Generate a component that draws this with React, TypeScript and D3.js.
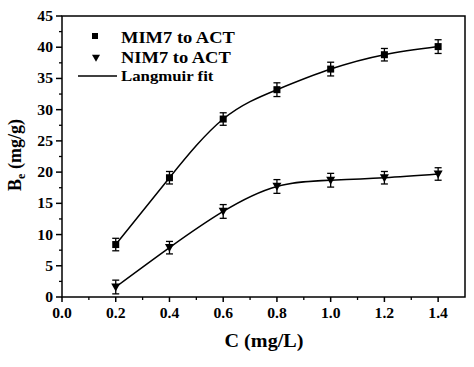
import React from "react";
import * as d3 from "d3";

const concentrations = [0.2, 0.4, 0.6, 0.8, 1.0, 1.2, 1.4];
const mimValues = [8.4, 19.1, 28.5, 33.2, 36.5, 38.8, 40.1];
const mimErrors = [1.0, 1.0, 1.0, 1.1, 1.1, 1.0, 1.1];
const nimValues = [1.6, 7.9, 13.7, 17.7, 18.7, 19.1, 19.7];
const nimErrors = [1.1, 1.0, 1.1, 1.1, 1.1, 1.0, 1.0];
const xTicks = [0.0, 0.2, 0.4, 0.6, 0.8, 1.0, 1.2, 1.4];
const yTicks = [0, 5, 10, 15, 20, 25, 30, 35, 40, 45];

const W = 474, H = 367;
const L = 62, R = 465, T = 16, B = 297;
const FONT = "Liberation Serif";
const SX = 1.12;

function Txt(props: { x: number; y: number; size: number; anchor?: string; children: React.ReactNode }) {
  return (
    <text
      transform={`translate(${props.x},${props.y}) scale(${SX},1)`}
      fontSize={props.size}
      textAnchor={props.anchor || "start"}
      style={{ fontFamily: FONT, fontWeight: 700 }}
      fill="#000"
    >
      {props.children}
    </text>
  );
}

export default function App() {
  const x = d3.scaleLinear().domain([0, 1.5]).range([L, R]);
  const y = d3.scaleLinear().domain([0, 45]).range([B, T]);
  const line = d3.line<number>().x((_, i) => x(concentrations[i])).y((v) => y(v)).curve(d3.curveNatural);
  const xMinor = d3.range(0.1, 1.5, 0.2);
  const yMinor = d3.range(2.5, 45, 5);

  const errBars = (vals: number[], errs: number[]) =>
    vals.map((v, i) => {
      const cx = x(concentrations[i]);
      const y1 = y(v + errs[i]), y2 = y(v - errs[i]);
      return (
        <g key={i} stroke="#000" strokeWidth={1.3}>
          <line x1={cx} x2={cx} y1={y1} y2={y2} />
          <line x1={cx - 3.5} x2={cx + 3.5} y1={y1} y2={y1} />
          <line x1={cx - 3.5} x2={cx + 3.5} y1={y2} y2={y2} />
        </g>
      );
    });

  const tri = (cx: number, cy: number, w: number, h: number) =>
    `M${cx - w / 2},${cy - h * 0.45}L${cx + w / 2},${cy - h * 0.45}L${cx},${cy + h * 0.55}Z`;

  return (
    <svg width={W} height={H} style={{ position: "absolute", left: 0, top: 0, background: "#fff" }}>
      <rect x={0} y={0} width={W} height={H} fill="#fff" />
      <rect x={L} y={T} width={R - L} height={B - T} fill="none" stroke="#000" strokeWidth={1.5} />
      {xTicks.map((t) => (
        <g key={"xt" + t}>
          <line x1={x(t)} x2={x(t)} y1={B} y2={B + 5} stroke="#000" strokeWidth={1.5} />
          <Txt x={x(t)} y={B + 21} size={14} anchor="middle">{t.toFixed(1)}</Txt>
        </g>
      ))}
      {xMinor.map((t) => (
        <line key={"xm" + t} x1={x(t)} x2={x(t)} y1={B} y2={B + 3} stroke="#000" strokeWidth={1.3} />
      ))}
      {yTicks.map((t) => (
        <g key={"yt" + t}>
          <line x1={L - 6} x2={L} y1={y(t)} y2={y(t)} stroke="#000" strokeWidth={1.5} />
          <Txt x={L - 9} y={y(t) + 5} size={14} anchor="end">{t}</Txt>
        </g>
      ))}
      {yMinor.map((t) => (
        <line key={"ym" + t} x1={L - 3} x2={L} y1={y(t)} y2={y(t)} stroke="#000" strokeWidth={1.3} />
      ))}
      <path d={line(mimValues) || ""} fill="none" stroke="#000" strokeWidth={1.5} />
      <path d={line(nimValues) || ""} fill="none" stroke="#000" strokeWidth={1.5} />
      {errBars(mimValues, mimErrors)}
      {errBars(nimValues, nimErrors)}
      {mimValues.map((v, i) => (
        <rect key={"m" + i} x={x(concentrations[i]) - 3.5} y={y(v) - 3.5} width={7} height={7} fill="#000" />
      ))}
      {nimValues.map((v, i) => (
        <path key={"n" + i} d={tri(x(concentrations[i]), y(v), 9, 8)} fill="#000" />
      ))}
      <rect x={92} y={33} width={6} height={6} fill="#000" />
      <Txt x={121} y={43} size={16.5}>MIM7 to ACT</Txt>
      <path d={tri(96, 58, 8, 7)} fill="#000" />
      <Txt x={121} y={63} size={16.5}>NIM7 to ACT</Txt>
      <line x1={78} x2={117} y1={76} y2={76} stroke="#000" strokeWidth={1.5} />
      <Txt x={121} y={81} size={15}>Langmuir fit</Txt>
      <Txt x={264} y={347} size={18} anchor="middle">C (mg/L)</Txt>
      <text
        transform={`translate(21,155) rotate(-90)`}
        textAnchor="middle"
        fontSize={18}
        style={{ fontFamily: FONT, fontWeight: 700 }}
      >
        B<tspan fontSize={12} dy={4}>e</tspan><tspan dy={-4}> (mg/g)</tspan>
      </text>
    </svg>
  );
}
